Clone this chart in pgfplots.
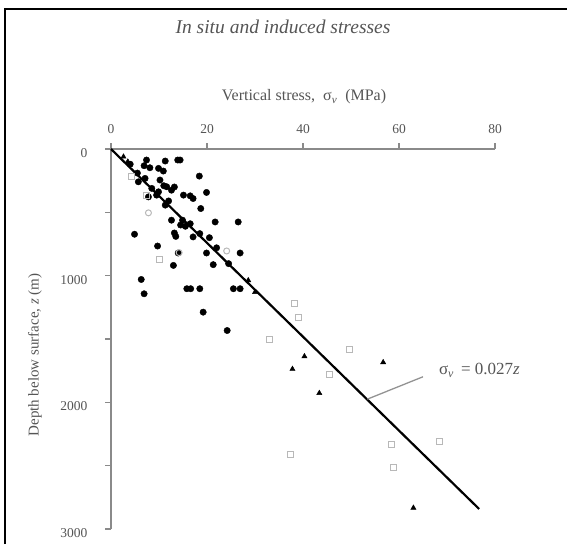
\documentclass[border=0pt]{standalone}
\usepackage{pgfplots}
\pgfplotsset{compat=1.18}
\usepackage{fontspec}
\setmainfont{Liberation Serif}
\definecolor{axgray}{HTML}{8A8A8A}
\definecolor{txtgray}{HTML}{555555}
\definecolor{sqgray}{HTML}{B8B8B8}
\begin{document}
\begin{tikzpicture}
\path[use as bounding box] (0pt,0pt) rectangle (567pt,544pt);
\draw[line width=2.2pt,black] (5pt,0pt) -- (5pt,535pt) -- (567pt,535pt);
\begin{axis}[
  at={(111pt,15pt)}, anchor=south west,
  scale only axis, width=384pt, height=380pt,
  xmin=0, xmax=80, ymin=0, ymax=3000,
  y dir=reverse,
  axis x line*=top, axis y line*=left,
  axis line style={axgray, line width=1.6pt, -},
  tick align=outside,
  major tick length=6pt,
  tick style={axgray, line width=1.2pt},
  xtick={0,20,40,60,80},
  ytick={0,500,1000,1500,2000,2500,3000},
  yticklabels={0,,1000,,2000,,3000},
  ticklabel style={font=\fontsize{13.5}{15}\selectfont, text=txtgray},
  /pgf/number format/assume math mode=true,
  scaled y ticks=false,
  yticklabel style={/pgf/number format/1000 sep={}, xshift=-14pt, yshift=-4pt},
  xticklabel style={yshift=6pt},
  clip=false,
]
% black filled circles
\addplot[only marks, mark=*, mark size=3.2pt, black] coordinates {
(7.4,87) (11.3,95) (13.9,87) (14.4,87) (6.9,132) (8.1,148) (9.9,153) (10.9,174)
(18.4,214) (5.7,259) (7.1,232) (8.5,311) (9.9,338) (11.6,298) (12.6,325) (11.0,290)
(13.2,300) (7.8,378) (9.5,364) (15.1,364) (16.5,370) (17.1,391) (19.9,343)
(11.3,443) (18.7,470) (12.6,562) (14.9,562) (21.7,576) (26.5,576)
(4.9,673) (13.2,663) (13.5,690) (17.1,694) (18.5,668) (15.5,610) (14.5,600)
(9.7,766) (14.0,821) (19.9,821) (26.9,821) (21.3,913) (13.0,919)
(6.3,1030) (6.9,1143) (15.8,1103) (16.6,1103) (18.5,1103) (25.5,1103) (26.9,1103)
(19.2,1288) (24.2,1433) (4.0,120) (5.5,190) (10.2,245) (12.0,410) (16.5,590)
(22.0,780) (24.5,905) (20.5,700)
};
% black triangles
\addplot[only marks, mark=triangle*, mark size=3pt, black] coordinates {
(2.6,61) (3.5,100) (28.6,1037) (30.0,1130) (40.3,1637) (37.8,1737) (56.7,1684)
(43.4,1927) (63.0,2833)
};
% grey open squares
\addplot[only marks, mark=square, mark size=3pt, sqgray, line width=1pt] coordinates {
(4.3,219) (7.4,364) (10.2,874) (38.3,1222) (39.0,1328) (33.1,1507) (45.5,1782)
(49.7,1584) (37.3,2410) (58.5,2331) (68.4,2313) (58.8,2516)
};
% grey open circles
\addplot[only marks, mark=o, mark size=3pt, sqgray, line width=1pt] coordinates {
(7.8,504) (14.2,818) (24.1,805)
};
% trend line
\addplot[black, line width=2.2pt] coordinates {(0,0) (76.7,2842)};
% leader
\addplot[sqgray!80!black, line width=1.3pt] coordinates {(65.0,1798) (53.4,1975)};
\node[anchor=west, font=\fontsize{17}{19}\selectfont, text=txtgray] at (axis cs:67.6,1750) {σ\textsubscript{\itshape v}\, = 0.027\textit{z}};
\end{axis}
\node[font=\fontsize{19.5}{22}\selectfont\itshape, text=txtgray] at (283pt,517pt) {In situ and induced stresses};
\node[font=\fontsize{16}{18}\selectfont, text=txtgray] at (304pt,447pt) {Vertical stress,\ \ σ\textsubscript{\itshape v}\ \ (MPa)};
\node[font=\fontsize{15}{18}\selectfont, text=txtgray, rotate=90] at (35pt,189pt) {Depth below surface, \textit{z} (m)};
\end{tikzpicture}
\end{document}
